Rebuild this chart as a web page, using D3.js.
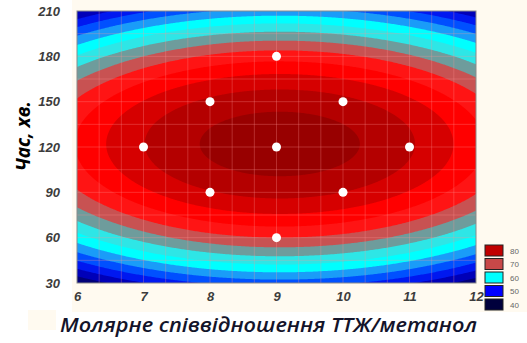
<!DOCTYPE html>
<html>
<head>
<meta charset="utf-8">
<script src="https://cdn.jsdelivr.net/npm/d3@7"></script>
<style>
  body { margin: 0; background: #fff; }
  svg { display: block; }
</style>
</head>
<body>
<div id="chart"></div>
<script>
// experimental design points (molar ratio, time)
const pointX = [9, 8, 10, 7, 9, 11, 8, 10, 9];
const pointY = [180, 150, 150, 120, 120, 120, 90, 90, 60];

const xTicks = [6, 7, 8, 9, 10, 11, 12];
const yTicks = [30, 60, 90, 120, 150, 180, 210];
const legendLevels = [80, 70, 60, 50, 40];

// fitted response surface, z = b0 - b1*dx^2 - b2*dy^2
const surfaceCenter = [9.05, 122];
const surfaceCoef = [86.16, 1.4897, 0.004737];
const contourLevels = d3.range(32, 88, 4);

const width = 527, height = 343;
const plot = { left: 77, right: 476, top: 11, bottom: 283 };

// colour of the band starting at each level
const bandColor = {
  28: '#000048', 32: '#000078', 36: '#0000b8', 40: '#0018f0', 44: '#0050ff',
  48: '#1a9cf8', 52: '#00ffff', 56: '#2ee6e6', 60: '#6e9c9c', 64: '#c85252',
  68: '#ff1414', 72: '#ff0000', 76: '#d60000', 80: '#b40000', 84: '#980000'
};
const legendColor = ['#c00000', '#c84848', '#00ffff', '#0000ff', '#00003c'];

function surface(xv, yv) {
  const dx = xv - surfaceCenter[0], dy = yv - surfaceCenter[1];
  return surfaceCoef[0] - surfaceCoef[1] * dx * dx - surfaceCoef[2] * dy * dy;
}

const svg = d3.select('#chart').append('svg')
  .attr('width', width)
  .attr('height', height);

// cream backdrop like the source screenshot
svg.append('rect').attr('x', 72).attr('y', 0).attr('width', width - 72).attr('height', 312).attr('fill', '#fffaf0');
svg.append('rect').attr('x', 28).attr('y', 310).attr('width', 28).attr('height', 20).attr('fill', '#fffaf0');

const x = d3.scaleLinear().domain([6, 12]).range([plot.left, plot.right]);
const y = d3.scaleLinear().domain([30, 210]).range([plot.bottom, plot.top]);

// grid of surface values
const nx = 301, ny = 271;
const gx = d3.scaleLinear().domain([0.5, nx - 0.5]).range([6, 12]);
const gy = d3.scaleLinear().domain([0.5, ny - 0.5]).range([30, 210]);
const values = new Array(nx * ny);
for (let j = 0; j < ny; j++) {
  for (let i = 0; i < nx; i++) {
    values[j * nx + i] = surface(gx(i + 0.5), gy(j + 0.5));
  }
}

const contours = d3.contours().size([nx, ny]).thresholds(contourLevels)(values);
const path = d3.geoPath(d3.geoTransform({
  point(px, py) { this.stream.point(x(gx(px)), y(gy(py))); }
}));

svg.append('clipPath').attr('id', 'plotClip')
  .append('rect')
  .attr('x', plot.left).attr('y', plot.top)
  .attr('width', plot.right - plot.left).attr('height', plot.bottom - plot.top);

const area = svg.append('g').attr('clip-path', 'url(#plotClip)');

area.append('rect')
  .attr('x', plot.left).attr('y', plot.top)
  .attr('width', plot.right - plot.left).attr('height', plot.bottom - plot.top)
  .attr('fill', bandColor[28]);

area.selectAll('path.band')
  .data(contours)
  .join('path')
  .attr('class', 'band')
  .attr('d', path)
  .attr('fill', d => bandColor[d.value]);

// faint mesh lines over the surface
const meshX = d3.range(1, 18).map(k => 6 + k / 3);
const meshY = d3.range(1, 12).map(k => 30 + k * 15);
area.selectAll('line.mx')
  .data(meshX)
  .join('line')
  .attr('x1', d => x(d)).attr('x2', d => x(d))
  .attr('y1', plot.top).attr('y2', plot.bottom)
  .attr('stroke', 'rgba(255,150,150,0.3)');
area.selectAll('line.my')
  .data(meshY)
  .join('line')
  .attr('y1', d => y(d)).attr('y2', d => y(d))
  .attr('x1', plot.left).attr('x2', plot.right)
  .attr('stroke', 'rgba(255,150,150,0.3)');

// plot frame
svg.append('rect')
  .attr('x', plot.left).attr('y', plot.top)
  .attr('width', plot.right - plot.left).attr('height', plot.bottom - plot.top)
  .attr('fill', 'none')
  .attr('stroke', '#8a8a8a');

// design points
svg.append('g')
  .selectAll('circle')
  .data(pointX.map((d, i) => [d, pointY[i]]))
  .join('circle')
  .attr('cx', d => x(d[0]))
  .attr('cy', d => y(d[1]))
  .attr('r', 4.5)
  .attr('fill', '#fff');

// axes
const tickFont = g => g.selectAll('text')
  .attr('font-family', '"Liberation Sans", Arial, sans-serif')
  .attr('font-size', 13)
  .attr('font-weight', 'bold')
  .attr('font-style', 'italic')
  .attr('fill', '#3c3c3c');

svg.append('g')
  .attr('transform', `translate(0,${plot.bottom})`)
  .call(d3.axisBottom(x).tickValues(xTicks).tickSize(0).tickPadding(9).tickFormat(d3.format('d')))
  .call(g => g.select('.domain').remove())
  .call(tickFont);

svg.append('g')
  .attr('transform', `translate(${plot.left},0)`)
  .call(d3.axisLeft(y).tickValues(yTicks).tickSize(0).tickPadding(17).tickFormat(d3.format('d')))
  .call(g => g.select('.domain').remove())
  .call(tickFont);

// axis titles
svg.append('text')
  .attr('transform', 'translate(30,136) rotate(-90)')
  .attr('text-anchor', 'middle')
  .attr('font-family', '"Open Sans", "Liberation Sans", sans-serif')
  .attr('font-size', 19)
  .attr('font-weight', 'bold')
  .attr('font-style', 'italic')
  .attr('fill', '#000')
  .text('Час, хв.');

svg.append('text')
  .attr('x', 60)
  .attr('y', 332)
  .attr('textLength', 417)
  .attr('lengthAdjust', 'spacingAndGlyphs')
  .attr('font-family', '"Open Sans", "Liberation Sans", sans-serif')
  .attr('font-size', 19)
  .attr('font-weight', 600)
  .attr('font-style', 'italic')
  .attr('fill', '#14142a')
  .text('Молярне співвідношення ТТЖ/метанол');

// legend
const legend = svg.append('g')
  .selectAll('g')
  .data(legendLevels)
  .join('g')
  .attr('transform', (d, i) => `translate(485,${245 + i * 13.5})`);

legend.append('rect')
  .attr('width', 18)
  .attr('height', 11)
  .attr('fill', (d, i) => legendColor[i])
  .attr('stroke', '#222');

legend.append('text')
  .attr('x', 25)
  .attr('y', 8.5)
  .attr('font-family', '"Liberation Sans", Arial, sans-serif')
  .attr('font-size', 8)
  .attr('fill', '#666')
  .text(d => d);
</script>
</body>
</html>
